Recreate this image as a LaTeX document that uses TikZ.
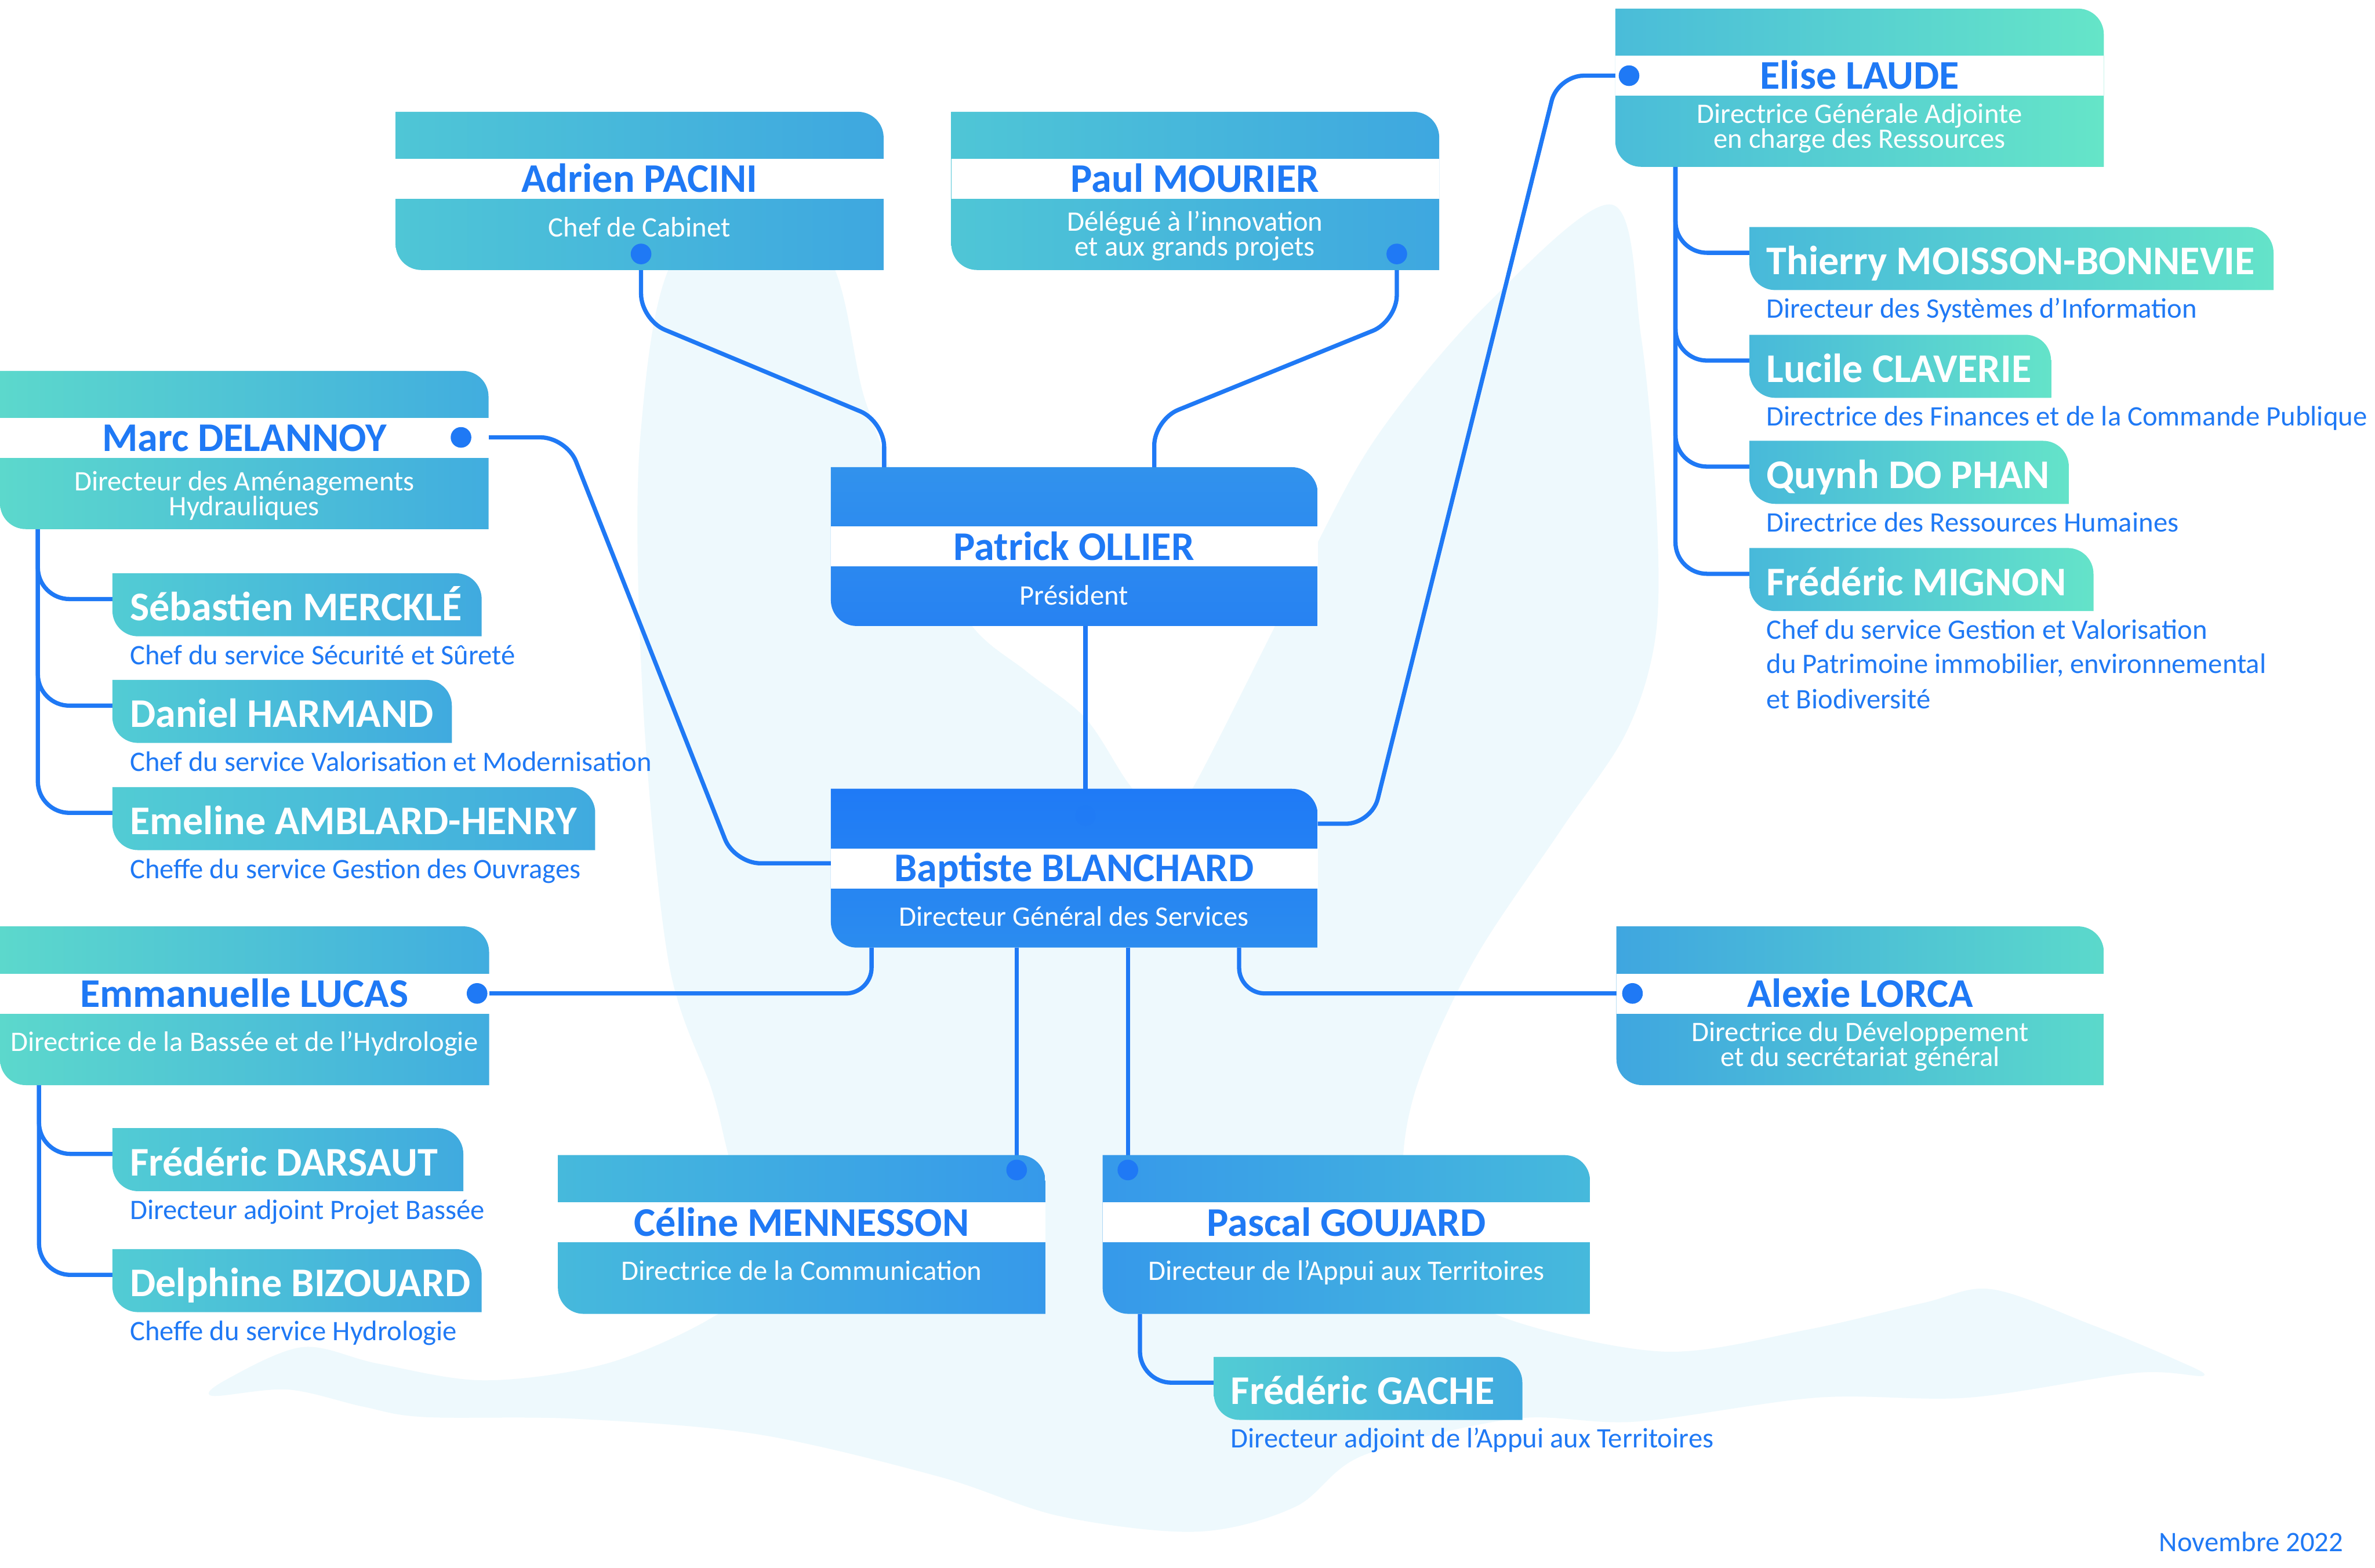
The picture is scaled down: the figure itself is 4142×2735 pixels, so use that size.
\documentclass[tikz,border=0pt]{standalone}
\usepackage{fontspec}
\setmainfont{Carlito}
\definecolor{lineblue}{HTML}{1F79F5}
\definecolor{bgpale}{HTML}{EEF9FD}
\definecolor{tealL}{HTML}{4FC6D6}
\definecolor{blueR}{HTML}{3EA7E0}
\definecolor{greenL}{HTML}{5CD8CC}
\definecolor{blueR2}{HTML}{41ADDF}
\definecolor{eliseL}{HTML}{4ABCD9}
\definecolor{eliseR}{HTML}{65E5C8}
\definecolor{alexL}{HTML}{3FA6E0}
\definecolor{alexR}{HTML}{5BD9CB}
\definecolor{celL}{HTML}{46B9DC}
\definecolor{celR}{HTML}{3699EA}
\definecolor{patT}{HTML}{3192ED}
\definecolor{patB}{HTML}{2782F2}
\definecolor{bapT}{HTML}{1F7AF6}
\definecolor{bapB}{HTML}{2B8CEF}
\definecolor{subL}{HTML}{52CCD4}
\definecolor{subR}{HTML}{40AADF}
\definecolor{esubL}{HTML}{48B9DA}
\definecolor{esubR}{HTML}{64E3C9}
\newcommand\cardshape[4]{(#1,#2) -- ({#3-45},#2) .. controls ({#3-20},#2) and (#3,{#2+20}) .. (#3,{#2+45}) -- (#3,#4) -- ({#1+45},#4) .. controls ({#1+20},#4) and (#1,{#4-20}) .. (#1,{#4-45}) -- cycle}
\newcommand\namefont{\fontsize{20.2}{24}\selectfont\bfseries}
\newcommand\titlefont{\fontsize{14}{17}\selectfont}
\begin{document}
\begin{tikzpicture}[x=0.01cm,y=-0.01cm,
  conn/.style={draw=lineblue,line width=2.1pt,rounded corners=0.45cm},
  subconn/.style={draw=lineblue,line width=2.1pt,rounded corners=0.55cm},
  dotc/.style={circle,fill=lineblue,inner sep=0pt,minimum size=0.36cm},
  namelbl/.style={font=\namefont,text=lineblue,anchor=base,inner sep=0pt},
  titlelbl/.style={font=\titlefont,text=white,anchor=base,inner sep=0pt},
  subname/.style={font=\namefont,text=white,anchor=base west,inner sep=0pt},
  subtitle/.style={font=\titlefont,text=lineblue,anchor=base west,inner sep=0pt},
  whiteband/.style={fill=white}
]
\useasboundingbox (0,0) rectangle (4142,2735);
\fill[white] (0,0) rectangle (4142,2735);

% background shape
\fill[bgpale] plot[smooth cycle, tension=0.55] coordinates {
(1190,430) (1430,430) (1510,702) (1600,930) (1695,1092) (1791,1172) (1893,1253) (1969,1368) (2030,1430) (2084,1368) (2276,989) (2403,759) (2594,530) (2811,357) (2862,587) (2888,874) (2888,1104) (2837,1276) (2722,1448) (2569,1678) (2467,1907) (2450,2080) (2520,2230) (2641,2305) (2905,2358) (3150,2320) (3354,2273) (3473,2249) (3645,2310) (3790,2370) (3843,2400) (3724,2395) (3434,2438) (3170,2438) (2853,2480) (2641,2475) (2377,2539) (2258,2629) (2087,2672) (1849,2645) (1638,2576) (1321,2502) (1004,2475) (740,2472) (634,2454) (502,2424) (370,2435) (396,2406) (528,2350) (660,2379) (845,2408) (1057,2379) (1241,2299) (1321,2220) (1268,2006) (1241,1900) (1166,1678) (1121,1218) (1117,759)};

% attachment coordinates
\coordinate (dAdrien) at (1118,443);
\coordinate (dPaul) at (2436,443);
\coordinate (pTopL) at (1542,815);
\coordinate (pTopR) at (2013,815);
\coordinate (pBot) at (1893,1092);
\coordinate (bDot) at (1893,1423);
\coordinate (dMarc) at (804,763);
\coordinate (bLeft) at (1449,1506);
\coordinate (bRight) at (2298,1437);
\coordinate (dElise) at (2841,132);
\coordinate (bB1) at (1520,1653);
\coordinate (bB2) at (1773,1653);
\coordinate (bB3) at (1967,1653);
\coordinate (bB4) at (2161,1653);
\coordinate (dEmma) at (832,1733);
\coordinate (dAlexie) at (2847,1733);
\coordinate (dCeline) at (1773,2041);
\coordinate (dPascal) at (1967,2041);
\coordinate (mBot) at (66,923);
\coordinate (eBot) at (68,1893);
\coordinate (elBot) at (2922,291);
\coordinate (paBot) at (1988,2292);
\coordinate (sSeb) at (196,1045);
\coordinate (sDan) at (196,1231);
\coordinate (sEme) at (196,1418);
\coordinate (sDar) at (196,2013);
\coordinate (sBiz) at (196,2224);
\coordinate (sThi) at (3051,441);
\coordinate (sLuc) at (3051,629);
\coordinate (sQuy) at (3051,814);
\coordinate (sMig) at (3051,1001);
\coordinate (sGac) at (2117,2412);

% connectors
\draw[conn] (dAdrien) -- (1118,558) -- (1542,735) -- (pTopL);
\draw[conn] (dPaul) -- (2436,560) -- (2013,732) -- (pTopR);
\draw[conn] (pBot) -- (bDot);
\draw[conn] (dMarc) -- (988,763) -- (1281,1506) -- (bLeft);
\draw[conn] (bRight) -- (2392,1437) -- (2717,132) -- (dElise);
\draw[conn] (bB1) -- (1520,1733) -- (dEmma);
\draw[conn] (bB4) -- (2161,1733) -- (dAlexie);
\draw[conn] (bB2) -- (dCeline);
\draw[conn] (bB3) -- (dPascal);
\draw[subconn] (mBot) -- (66,1045) -- (sSeb);
\draw[subconn] (mBot) -- (66,1231) -- (sDan);
\draw[subconn] (mBot) -- (66,1418) -- (sEme);
\draw[subconn] (eBot) -- (68,2013) -- (sDar);
\draw[subconn] (eBot) -- (68,2224) -- (sBiz);
\draw[subconn] (elBot) -- (2922,441) -- (sThi);
\draw[subconn] (elBot) -- (2922,629) -- (sLuc);
\draw[subconn] (elBot) -- (2922,814) -- (sQuy);
\draw[subconn] (elBot) -- (2922,1001) -- (sMig);
\draw[subconn] (paBot) -- (1988,2412) -- (sGac);

% main cards
\shade[left color=tealL,right color=blueR] \cardshape{690}{195}{1541}{471};
\fill[whiteband] (690,277) rectangle (1541,347);
\shade[left color=tealL,right color=blueR] \cardshape{1659}{195}{2510}{471};
\fill[whiteband] (1659,277) rectangle (2510,347);
\shade[left color=eliseL,right color=eliseR] \cardshape{2817}{15}{3669}{291};
\fill[whiteband] (2817,97) rectangle (3669,167);
\shade[left color=greenL,right color=blueR2] \cardshape{0}{647}{852}{923};
\fill[whiteband] (0,729) rectangle (852,799);
\shade[top color=patT,bottom color=patB] \cardshape{1449}{815}{2298}{1092};
\fill[whiteband] (1449,918) rectangle (2298,988);
\shade[top color=bapT,bottom color=bapB] \cardshape{1449}{1376}{2298}{1653};
\fill[whiteband] (1449,1480) rectangle (2298,1550);
\shade[left color=greenL,right color=blueR2] \cardshape{0}{1616}{853}{1893};
\fill[whiteband] (0,1699) rectangle (853,1769);
\shade[left color=alexL,right color=alexR] \cardshape{2819}{1616}{3669}{1893};
\fill[whiteband] (2819,1699) rectangle (3669,1769);
\shade[left color=celL,right color=celR] \cardshape{973}{2015}{1823}{2292};
\fill[whiteband] (973,2097) rectangle (1823,2167);
\shade[left color=celR,right color=celL] \cardshape{1923}{2015}{2773}{2292};
\fill[whiteband] (1923,2097) rectangle (2773,2167);

% sub cards
\shade[left color=subL,right color=subR] \cardshape{196}{1000}{840}{1110};
\shade[left color=subL,right color=subR] \cardshape{196}{1186}{788}{1296};
\shade[left color=subL,right color=subR] \cardshape{196}{1373}{1038}{1483};
\shade[left color=subL,right color=subR] \cardshape{196}{1968}{808}{2078};
\shade[left color=subL,right color=subR] \cardshape{196}{2179}{840}{2289};
\shade[left color=esubL,right color=esubR] \cardshape{3051}{396}{3965}{506};
\shade[left color=esubL,right color=esubR] \cardshape{3051}{584}{3577}{694};
\shade[left color=esubL,right color=esubR] \cardshape{3051}{769}{3608}{879};
\shade[left color=esubL,right color=esubR] \cardshape{3051}{956}{3651}{1066};
\shade[left color=subL,right color=subR] \cardshape{2117}{2367}{2655}{2477};

% dots
\node[dotc] (nAdrienDot) at (dAdrien) {};
\node[dotc] (nPaulDot) at (dPaul) {};
\node[dotc] (nMarcDot) at (dMarc) {};
\node[dotc] (nEliseDot) at (dElise) {};
\node[dotc] (nEmmaDot) at (dEmma) {};
\node[dotc] (nAlexieDot) at (dAlexie) {};
\node[dotc] (nCelineDot) at (dCeline) {};
\node[dotc] (nPascalDot) at (dPascal) {};
\node[dotc,opacity=0.25] (nBapDot) at (bDot) {};

% main texts
\node[namelbl] (nAdrien) at (1115,335) {Adrien PACINI};
\node[titlelbl] (tAdrien) at (1115,413) {Chef de Cabinet};
\node[namelbl] (nPaul) at (2084,335) {Paul MOURIER};
\node[titlelbl] (tPaul1) at (2084,403) {Délégué à l’innovation};
\node[titlelbl] (tPaul2) at (2084,446) {et aux grands projets};
\node[namelbl] (nElise) at (3243,155) {Elise LAUDE};
\node[titlelbl] (tElise1) at (3243,215) {Directrice Générale Adjointe};
\node[titlelbl] (tElise2) at (3243,258) {en charge des Ressources};
\node[namelbl] (nMarc) at (426,787) {Marc DELANNOY};
\node[titlelbl] (tMarc1) at (426,856) {Directeur des Aménagements};
\node[titlelbl] (tMarc2) at (426,899) {Hydrauliques};
\node[namelbl] (nPatrick) at (1873,977) {Patrick OLLIER};
\node[titlelbl] (tPatrick) at (1873,1055) {Président};
\node[namelbl] (nBaptiste) at (1873,1538) {Baptiste BLANCHARD};
\node[titlelbl] (tBaptiste) at (1873,1615) {Directeur Général des Services};
\node[namelbl] (nEmma) at (426,1757) {Emmanuelle LUCAS};
\node[titlelbl] (tEmma) at (426,1834) {Directrice de la Bassée et de l’Hydrologie};
\node[namelbl] (nAlexie) at (3244,1757) {Alexie LORCA};
\node[titlelbl] (tAlexie1) at (3244,1817) {Directrice du Développement};
\node[titlelbl] (tAlexie2) at (3244,1860) {et du secrétariat général};
\node[namelbl] (nCeline) at (1398,2156) {Céline MENNESSON};
\node[titlelbl] (tCeline) at (1398,2233) {Directrice de la Communication};
\node[namelbl] (nPascal) at (2348,2156) {Pascal GOUJARD};
\node[titlelbl] (tPascal) at (2348,2233) {Directeur de l’Appui aux Territoires};

% sub texts
\node[subname] (nSeb) at (226,1083) {Sébastien MERCKLÉ};
\node[subtitle] (tSeb) at (226,1159) {Chef du service Sécurité et Sûreté};
\node[subname] (nDan) at (226,1269) {Daniel HARMAND};
\node[subtitle] (tDan) at (226,1345) {Chef du service Valorisation et Modernisation};
\node[subname] (nEme) at (226,1456) {Emeline AMBLARD-HENRY};
\node[subtitle] (tEme) at (226,1532) {Cheffe du service Gestion des Ouvrages};
\node[subname] (nDar) at (226,2051) {Frédéric DARSAUT};
\node[subtitle] (tDar) at (226,2127) {Directeur adjoint Projet Bassée};
\node[subname] (nBiz) at (226,2262) {Delphine BIZOUARD};
\node[subtitle] (tBiz) at (226,2338) {Cheffe du service Hydrologie};
\node[subname] (nThi) at (3080,479) {Thierry MOISSON-BONNEVIE};
\node[subtitle] (tThi) at (3080,555) {Directeur des Systèmes d’Information};
\node[subname] (nLuc) at (3080,667) {Lucile CLAVERIE};
\node[subtitle] (tLuc) at (3080,743) {Directrice des Finances et de la Commande Publique};
\node[subname] (nQuy) at (3080,852) {Quynh DO PHAN};
\node[subtitle] (tQuy) at (3080,928) {Directrice des Ressources Humaines};
\node[subname] (nMig) at (3080,1039) {Frédéric MIGNON};
\node[subtitle] (tMig1) at (3080,1115) {Chef du service Gestion et Valorisation};
\node[subtitle] (tMig2) at (3080,1175) {du Patrimoine immobilier, environnemental};
\node[subtitle] (tMig3) at (3080,1236) {et Biodiversité};
\node[subname] (nGac) at (2146,2450) {Frédéric GACHE};
\node[subtitle] (tGac) at (2146,2526) {Directeur adjoint de l’Appui aux Territoires};

\node[subtitle] (date) at (3765,2707) {Novembre 2022};
\end{tikzpicture}
\end{document}
